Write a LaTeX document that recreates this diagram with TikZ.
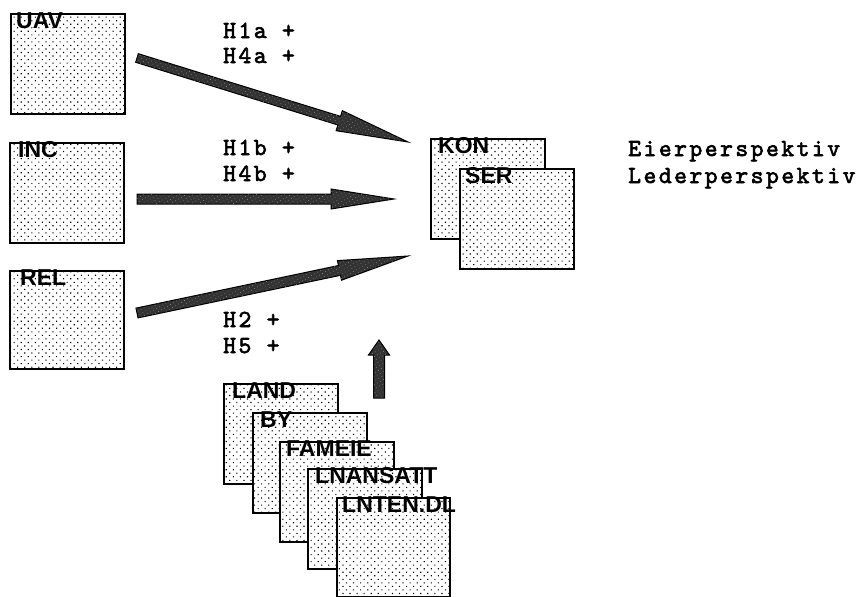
\documentclass[tikz,border=0pt]{standalone}
\usepackage{fontspec}
\usetikzlibrary{calc,patterns.meta}
\newfontfamily\boxfont{Liberation Sans}
\newfontfamily\typew{lmmono10-regular.otf}[LetterSpace=10, FakeBold=2.5]
\tikzset{
  dotbox/.style={draw=black, line width=1.8pt, preaction={fill=white},
    pattern={Dots[distance=5pt,angle=45,radius=0.8pt]}, pattern color=black,
    minimum width=114pt, minimum height=100pt, inner sep=0pt, anchor=north west},
  boxlabel/.style={anchor=base west, inner sep=0pt,
    font=\boxfont\bfseries\fontsize{23}{23}\selectfont},
  hyp/.style={anchor=base west, inner sep=0pt,
    font=\typew\fontsize{24.5}{24.5}\selectfont},
  fatarrow/.style={draw=black, line width=1pt, line join=miter, fill=black!80,
    postaction={pattern={Dots[distance=3.5pt,angle=30,radius=0.4pt]}, pattern color=black!35}},
}
% #1 start, #2 tip, #3 shaft half width, #4 head half width, #5 head length
\newcommand{\fatarr}[5]{%
  \coordinate (#1-h) at ($(#2)!#5!(#1)$);
  \draw[fatarrow] ($(#1)!#3!90:(#2)$) -- ($(#1-h)!#3!-90:(#1)$)
    -- ($(#1-h)!#4!-90:(#1)$) -- (#2) -- ($(#1-h)!#4!90:(#1)$)
    -- ($(#1-h)!#3!90:(#1)$) -- ($(#1)!#3!-90:(#2)$) -- cycle;
}
\begin{document}
\begin{tikzpicture}[x=1pt,y=-1pt]
\useasboundingbox (0,0) rectangle (868,597);

% left boxes
\node[dotbox] (uav) at (10,13) {};
\node[boxlabel] (uavl) at (16,28) {UAV};
\node[dotbox] (inc) at (9,142) {};
\node[boxlabel] (incl) at (18,157) {INC};
\node[dotbox, minimum height=98pt] (rel) at (9,270) {};
\node[boxlabel] (rell) at (20,285) {REL};

% target boxes
\node[dotbox] (kon) at (430,138) {};
\node[boxlabel] (konl) at (438,153) {KON};
\node[dotbox] (ser) at (459,168) {};
\node[boxlabel] (serl) at (465,183) {SER};

% stacked boxes
\node[dotbox] (land) at (223,383) {};
\node[boxlabel] (landl) at (232,398) {LAND};
\node[dotbox] (by) at (252,412) {};
\node[boxlabel] (byl) at (260,427) {BY};
\node[dotbox] (fameie) at (279,441) {};
\node[boxlabel] (fameiel) at (286,456) {FAMEIE};
\node[dotbox] (lnansatt) at (307,468) {};
\node[boxlabel] (lnansattl) at (315,483) {LNANSATT};
\node[dotbox, minimum width=113pt, minimum height=99pt] (lnten) at (336,497) {};
\node[boxlabel] (lntenl) at (342,512) {LNTEN.DL};

% hypothesis labels
\node[hyp] (h1a) at (223,38) {H1a +};
\node[hyp] (h4a) at (223,63) {H4a +};
\node[hyp] (h1b) at (223,155) {H1b +};
\node[hyp] (h4b) at (223,181) {H4b +};
\node[hyp] (h2) at (223,327) {H2 +};
\node[hyp] (h5) at (223,353) {H5 +};

% perspectives
\node[hyp] (eier) at (628,156) {Eierperspektiv};
\node[hyp] (leder) at (628,183) {Lederperspektiv};

% arrows
\coordinate (a1) at (137,58);
\coordinate (a1t) at (408,142);
\coordinate (a2) at (137,199);
\coordinate (a2t) at (394,199);
\coordinate (a3) at (137,313);
\coordinate (a3t) at (408,256);
\coordinate (a4) at (379,398);
\coordinate (a4t) at (379,340);
\fatarr{a1}{a1t}{4.5pt}{10.5pt}{72pt}
\fatarr{a2}{a2t}{5pt}{10pt}{63pt}
\fatarr{a3}{a3t}{5pt}{10pt}{70pt}
\fatarr{a4}{a4t}{5.5pt}{10.5pt}{15pt}
\end{tikzpicture}
\end{document}
